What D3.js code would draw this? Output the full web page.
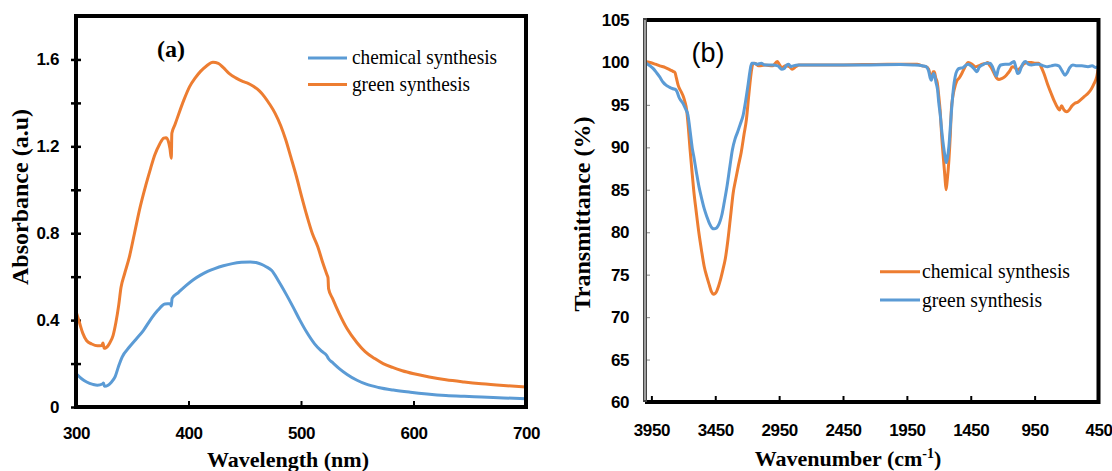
<!DOCTYPE html>
<html lang="en">
<head>
<meta charset="UTF-8">
<title>UV-Vis and FTIR spectra</title>
<script src="https://d3js.org/d3.v7.min.js"></script>
<style>
    body { margin: 0; padding: 0; background: #fff; }
    svg { display: block; }
    .tick-lbl text { font-family: "Liberation Sans", Arial, sans-serif; font-weight: bold; font-size: 17px; fill: #000; letter-spacing: -0.4px; }
    .ax-title { font-family: "Liberation Serif", "Times New Roman", serif; font-weight: bold; fill: #000; }
    .legend-txt { font-family: "Liberation Serif", "Times New Roman", serif; font-size: 22px; fill: #000; }
</style>
</head>
<body>
<div id="chart"></div>
<script>
// ---- panel (a) UV-Vis absorbance ----
const uvChemX = [300, 305, 309.5, 315, 319, 323.5, 324.5, 325.3, 328.5, 331, 334.8, 338, 341, 347.4, 353, 360, 366, 372.7, 379, 383.8, 384.7, 385.4, 391, 398, 404, 410.7, 417, 423.3, 431, 439, 447, 455, 460, 464.4, 469, 474, 480, 486.5, 493, 499, 505, 511.9, 518, 523, 524.5, 528, 534, 541, 549.8, 558, 568.8, 582, 597.2, 612, 628.8, 645, 660.5, 680, 700];
const uvChemY = [0.154, 0.13, 0.115, 0.104, 0.1, 0.106, 0.11, 0.095, 0.1, 0.112, 0.14, 0.19, 0.23, 0.276, 0.31, 0.353, 0.4, 0.445, 0.474, 0.476, 0.465, 0.5, 0.527, 0.56, 0.585, 0.607, 0.624, 0.637, 0.65, 0.66, 0.666, 0.668, 0.665, 0.658, 0.646, 0.628, 0.58, 0.522, 0.46, 0.4, 0.345, 0.292, 0.258, 0.236, 0.222, 0.205, 0.177, 0.15, 0.123, 0.105, 0.09, 0.078, 0.068, 0.06, 0.053, 0.049, 0.046, 0.042, 0.038];
const uvGreenX = [300, 303, 306, 309.5, 314, 319, 323, 324, 325, 326.5, 330, 333, 335.5, 338, 340, 343, 347.4, 352, 357, 362, 366.4, 370, 374.3, 378, 380, 382, 383.5, 384.7, 385.2, 388, 391.7, 396, 401, 406, 410.7, 416, 421.7, 426.5, 431, 436, 442, 448.6, 453, 458, 463, 467.6, 472, 477, 482, 486.5, 491, 496, 500.5, 505.5, 510, 515, 519, 523, 524, 524.5, 528, 534, 541, 549.8, 557, 565.6, 573, 581.4, 590, 600.4, 614, 628.8, 645, 660.5, 680, 700];
const uvGreenY = [0.44, 0.39, 0.34, 0.305, 0.29, 0.282, 0.283, 0.295, 0.27, 0.272, 0.295, 0.33, 0.39, 0.47, 0.55, 0.61, 0.69, 0.8, 0.92, 1.02, 1.1, 1.16, 1.21, 1.238, 1.24, 1.225, 1.19, 1.145, 1.26, 1.3, 1.355, 1.415, 1.475, 1.515, 1.545, 1.57, 1.587, 1.582, 1.562, 1.536, 1.515, 1.498, 1.49, 1.475, 1.455, 1.428, 1.395, 1.352, 1.295, 1.229, 1.15, 1.06, 0.97, 0.876, 0.8, 0.737, 0.67, 0.61, 0.595, 0.545, 0.5, 0.43, 0.36, 0.296, 0.255, 0.223, 0.2, 0.182, 0.167, 0.153, 0.138, 0.125, 0.115, 0.107, 0.099, 0.092];
const uvXTicks = [300, 400, 500, 600, 700];
const uvYTicks = [0, 0.2, 0.4, 0.6, 0.8, 1.0, 1.2, 1.4, 1.6];
const uvYLabels = [0, 0.4, 0.8, 1.2, 1.6];

// ---- panel (b) FTIR transmittance ----
const irChemX = [4000, 3960, 3920, 3885, 3840, 3800, 3781, 3765, 3755, 3740, 3729, 3715, 3703, 3690, 3674, 3660, 3647, 3633, 3619, 3598, 3578, 3557, 3537, 3515, 3495, 3480, 3465, 3450, 3440, 3425, 3413, 3390, 3371, 3350, 3330, 3310, 3289, 3268, 3247, 3225, 3206, 3190, 3178, 3165, 3156, 3140, 3110, 3060, 3000, 2965, 2950, 2930, 2900, 2870, 2848, 2820, 2793, 2700, 2500, 2300, 2100, 1950, 1870, 1830, 1800, 1780, 1765, 1755, 1745, 1735, 1725, 1712, 1700, 1690, 1676, 1663, 1652, 1643, 1635, 1621, 1610, 1602, 1590, 1580, 1560, 1539, 1520, 1497, 1470, 1440, 1415, 1390, 1359, 1330, 1318, 1305, 1290, 1270, 1249, 1230, 1208, 1185, 1166, 1145, 1125, 1105, 1084, 1060, 1029, 1000, 974, 945, 918, 900, 877, 850, 822, 795, 767, 755, 739, 720, 698, 680, 657, 635, 615, 590, 560, 530, 505, 485, 464, 450];
const irChemY = [100.1, 100, 99.8, 99.6, 99.4, 99.1, 98.95, 98.8, 98.2, 97.3, 96.9, 96.5, 96.1, 95.5, 94.4, 92.2, 89.7, 87.3, 85, 82.3, 79.9, 77.8, 76, 74.7, 73.7, 73, 72.7, 72.8, 73, 73.6, 74.2, 75.6, 76.9, 79.2, 81.9, 84.6, 86.3, 87.9, 89.4, 91.5, 93.3, 95.8, 97.6, 99.2, 99.8, 99.9, 99.6, 99.7, 99.6, 100.1, 99.8, 99.4, 99.6, 99.5, 99.2, 99.5, 99.7, 99.7, 99.7, 99.75, 99.8, 99.8, 99.8, 99.6, 99.5, 99.2, 98.4, 98.1, 98.9, 98.9, 98.2, 97.6, 96, 94.4, 91, 88.5, 86.5, 85, 86, 88.5, 91.5, 94.4, 96, 96.8, 97.8, 98.2, 98.7, 99.4, 100, 99.8, 99.5, 99.6, 99.8, 99.9, 100, 99.7, 99.4, 98.8, 98.2, 98, 98.1, 98.3, 98.6, 99, 99.5, 99.4, 99.1, 99.4, 99.9, 100, 100, 99.9, 99.9, 99.5, 98.7, 97.5, 96.4, 95.4, 94.6, 94.4, 94.9, 94.4, 94.2, 94.4, 94.9, 95.2, 95.3, 95.6, 96, 96.4, 96.9, 97.5, 98.3, 99.5];
const irGreenX = [4000, 3970, 3937, 3910, 3885, 3860, 3833, 3810, 3781, 3760, 3748, 3734, 3718, 3703, 3685, 3664, 3645, 3630, 3619, 3598, 3578, 3557, 3537, 3515, 3495, 3475, 3459, 3440, 3426, 3410, 3399, 3380, 3357, 3335, 3316, 3295, 3275, 3255, 3233, 3212, 3192, 3178, 3165, 3150, 3120, 3090, 3060, 3000, 2960, 2930, 2910, 2890, 2875, 2860, 2840, 2800, 2600, 2300, 2000, 1900, 1830, 1800, 1780, 1768, 1759, 1750, 1740, 1730, 1723, 1710, 1700, 1690, 1676, 1663, 1650, 1641, 1632, 1621, 1608, 1594, 1580, 1566, 1550, 1539, 1510, 1485, 1470, 1440, 1415, 1401, 1385, 1359, 1330, 1300, 1280, 1265, 1249, 1235, 1215, 1180, 1150, 1125, 1111, 1098, 1084, 1070, 1055, 1040, 1021, 1000, 974, 940, 918, 880, 850, 820, 790, 760, 735, 712, 695, 675, 650, 620, 580, 532, 500, 470, 450];
const irGreenY = [100, 99.7, 99.3, 98.8, 98.3, 97.7, 97.3, 97.1, 96.9, 96.8, 96.5, 95.9, 95.5, 95.2, 94.6, 93.8, 91.7, 89.9, 89, 87.1, 85.4, 84, 82.8, 81.8, 81, 80.5, 80.4, 80.5, 80.8, 81.4, 82, 83.5, 85.5, 87.8, 89.7, 91, 91.8, 92.7, 93.7, 95.5, 97.5, 99, 99.9, 99.9, 99.8, 99.9, 99.7, 99.7, 99.6, 99.2, 99.3, 99.7, 99.8, 99.5, 99.6, 99.7, 99.7, 99.7, 99.75, 99.7, 99.6, 99.5, 99, 98.2, 97.9, 98.4, 98.7, 98.3, 97.7, 96.8, 95.2, 94, 91.8, 90.1, 88.8, 88.2, 88.8, 90.1, 92.8, 95.6, 97.6, 98.7, 99.2, 99.3, 99.4, 99.7, 99.8, 99.5, 99.1, 98.9, 99.4, 99.7, 99.9, 99.9, 99.5, 98.9, 98.4, 99.2, 99.7, 99.8, 99.8, 100, 100.1, 99.5, 98.7, 98.8, 99.4, 99.9, 100.1, 99.8, 99.7, 99.8, 99.8, 99.6, 99.5, 99.6, 99.7, 99.6, 99, 98.5, 98.8, 99.4, 99.7, 99.6, 99.6, 99.5, 99.6, 99.4, 99.6];
const irXTicks = [3950, 3450, 2950, 2450, 1950, 1450, 950, 450];
const irYTicks = [60, 65, 70, 75, 80, 85, 90, 95, 100, 105];

const seriesNames = ['chemical synthesis', 'green synthesis'];
const blue = '#5B9BD5';
const orange = '#ED7D31';

const svg = d3.select('#chart').append('svg')
    .attr('width', 1112)
    .attr('height', 471);

const zip = (xs, ys) => xs.map((x, i) => [x, ys[i]]);

// ================= panel (a) =================
const xA = d3.scaleLinear().domain([300, 700]).range([76, 526]);
const yA = d3.scaleLinear().domain([0, 1.8]).range([407, 16]);

const gA = svg.append('g');

// x axis: ticks pointing inside
gA.append('g')
    .attr('class', 'tick-lbl')
    .attr('transform', 'translate(0,407)')
    .call(d3.axisBottom(xA).tickValues(uvXTicks).tickSize(-6).tickPadding(20).tickFormat(d3.format('d')))
    .call(g => g.select('.domain').remove())
    .call(g => g.selectAll('.tick line').attr('stroke', '#000').attr('stroke-width', 2));

// y axis: ticks crossing the axis line
gA.append('g')
    .attr('class', 'tick-lbl')
    .attr('transform', 'translate(76,0)')
    .call(d3.axisLeft(yA).tickValues(uvYTicks).tickSize(5).tickPadding(12)
        .tickFormat(d => uvYLabels.some(v => Math.abs(v - d) < 1e-6) ? (d === 0 ? '0' : d3.format('.1f')(d)) : ''))
    .call(g => g.select('.domain').remove())
    .call(g => g.selectAll('.tick line').attr('stroke', '#000').attr('stroke-width', 2.5));
gA.append('g')
    .attr('transform', 'translate(76,0)')
    .call(d3.axisRight(yA).tickValues(uvYTicks).tickSize(5).tickFormat(''))
    .call(g => g.select('.domain').remove())
    .call(g => g.selectAll('.tick line').attr('stroke', '#000').attr('stroke-width', 2.5));

const lineA = d3.line().x(d => xA(d[0])).y(d => yA(d[1])).curve(d3.curveMonotoneX);

gA.append('path')
    .datum(zip(uvChemX, uvChemY))
    .attr('fill', 'none').attr('stroke', blue).attr('stroke-width', 3)
    .attr('stroke-linejoin', 'round')
    .attr('d', lineA);
gA.append('path')
    .datum(zip(uvGreenX, uvGreenY))
    .attr('fill', 'none').attr('stroke', orange).attr('stroke-width', 3)
    .attr('stroke-linejoin', 'round')
    .attr('d', lineA);

// frame
gA.append('rect')
    .attr('x', xA(300)).attr('y', yA(1.8))
    .attr('width', xA(700) - xA(300)).attr('height', yA(0) - yA(1.8))
    .attr('fill', 'none').attr('stroke', '#000').attr('stroke-width', 4);

gA.append('text')
    .attr('class', 'ax-title')
    .attr('x', 171).attr('y', 57)
    .attr('text-anchor', 'middle')
    .style('font-size', '24px')
    .text('(a)');

gA.append('text')
    .attr('class', 'ax-title')
    .attr('x', 288).attr('y', 467)
    .attr('text-anchor', 'middle')
    .style('font-size', '22px')
    .text('Wavelength (nm)');

gA.append('text')
    .attr('class', 'ax-title')
    .attr('transform', 'translate(28,197) rotate(-90)')
    .attr('text-anchor', 'middle')
    .style('font-size', '24px')
    .text('Absorbance (a.u)');

// legend (a)
const legA = [
    { name: seriesNames[0], color: blue, y: 58, w: 145 },
    { name: seriesNames[1], color: orange, y: 84.5, w: 118 }
];
legA.forEach(d => {
    gA.append('line')
        .attr('x1', 308).attr('x2', 347).attr('y1', d.y).attr('y2', d.y)
        .attr('stroke', d.color).attr('stroke-width', 3);
    gA.append('text')
        .attr('class', 'legend-txt')
        .attr('x', 352).attr('y', d.y + 6)
        .attr('textLength', d.w).attr('lengthAdjust', 'spacingAndGlyphs')
        .text(d.name);
});

// ================= panel (b) =================
const xB = d3.scaleLinear().domain([4000, 450]).range([645, 1098.5]);
const yB = d3.scaleLinear().domain([60, 105]).range([402, 20]);

const gB = svg.append('g');

gB.append('g')
    .attr('class', 'tick-lbl')
    .attr('transform', 'translate(0,402)')
    .call(d3.axisBottom(xB).tickValues(irXTicks).tickSize(-6).tickPadding(22).tickFormat(d3.format('d')))
    .call(g => g.select('.domain').remove())
    .call(g => g.selectAll('.tick line').attr('stroke', '#000').attr('stroke-width', 2));

gB.append('g')
    .attr('class', 'tick-lbl')
    .attr('transform', 'translate(645,0)')
    .call(d3.axisLeft(yB).tickValues(irYTicks).tickSize(-5).tickPadding(16).tickFormat(d3.format('d')))
    .call(g => g.select('.domain').remove())
    .call(g => g.selectAll('.tick line').attr('stroke', '#999').attr('stroke-width', 1.2));

const lineB = d3.line().x(d => xB(d[0])).y(d => yB(d[1])).curve(d3.curveMonotoneX);

gB.append('path')
    .datum(zip(irChemX, irChemY))
    .attr('fill', 'none').attr('stroke', orange).attr('stroke-width', 3)
    .attr('stroke-linejoin', 'round')
    .attr('d', lineB);
gB.append('path')
    .datum(zip(irGreenX, irGreenY))
    .attr('fill', 'none').attr('stroke', blue).attr('stroke-width', 3)
    .attr('stroke-linejoin', 'round')
    .attr('d', lineB);

// frame: black top/right/bottom, grey double line on the left
gB.append('path')
    .attr('d', `M${xB(4000)},${yB(105)} H${xB(450)} V${yB(60)} H${xB(4000)}`)
    .attr('fill', 'none').attr('stroke', '#000').attr('stroke-width', 4);
gB.append('line')
    .attr('x1', xB(4000)).attr('x2', xB(4000)).attr('y1', yB(105) - 2).attr('y2', yB(60))
    .attr('stroke', '#444').attr('stroke-width', 4);
gB.append('line')
    .attr('x1', xB(4000)).attr('x2', xB(4000)).attr('y1', yB(105)).attr('y2', yB(60) - 2)
    .attr('stroke', '#bbb').attr('stroke-width', 1.5);

gB.append('text')
    .attr('x', 708).attr('y', 62)
    .attr('text-anchor', 'middle')
    .style('font-family', '"Liberation Sans", Arial, sans-serif')
    .style('font-size', '27px')
    .text('(b)');

const wn = gB.append('text')
    .attr('class', 'ax-title')
    .attr('x', 848).attr('y', 466)
    .attr('text-anchor', 'middle')
    .style('font-size', '22px');
wn.append('tspan').text('Wavenumber (cm');
wn.append('tspan').attr('dy', -8).style('font-size', '14px').text('-1');
wn.append('tspan').attr('dy', 8).text(')');

gB.append('text')
    .attr('class', 'ax-title')
    .attr('transform', 'translate(590,214) rotate(-90)')
    .attr('text-anchor', 'middle')
    .style('font-size', '24px')
    .text('Transmittance (%)');

// legend (b)
const legB = [
    { name: seriesNames[0], color: orange, y: 271.7, w: 148 },
    { name: seriesNames[1], color: blue, y: 300, w: 120 }
];
legB.forEach(d => {
    gB.append('line')
        .attr('x1', 880).attr('x2', 920).attr('y1', d.y).attr('y2', d.y)
        .attr('stroke', d.color).attr('stroke-width', 3);
    gB.append('text')
        .attr('class', 'legend-txt')
        .attr('x', 922).attr('y', d.y + 6.5)
        .attr('textLength', d.w).attr('lengthAdjust', 'spacingAndGlyphs')
        .text(d.name);
});
</script>
</body>
</html>
